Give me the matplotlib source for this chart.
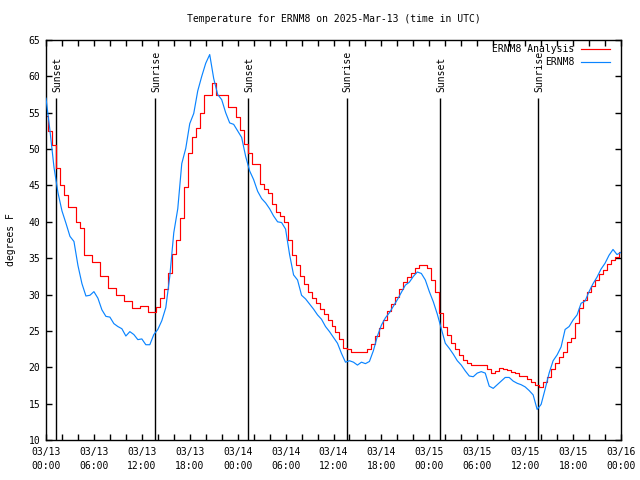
import matplotlib
matplotlib.use("Agg")
import matplotlib.pyplot as plt
import numpy as np

# ---- data ----
title = "Temperature for ERNM8 on 2025-Mar-13 (time in UTC)"
ylabel = "degrees F"
series_names = ["ERNM8 Analysis", "ERNM8"]

# hours since 03/13 00:00 UTC, half-hourly
analysis_hours = [i * 0.5 for i in range(145)]
analysis_temp = [54.5, 52.5, 50.6, 47.4, 45.0, 43.7, 42.1, 42.1, 40.0, 39.1,
                 35.4, 35.4, 34.5, 34.5, 32.5, 32.5, 30.9, 30.9, 30.0, 30.0,
                 29.1, 29.1, 28.2, 28.2, 28.4, 28.4, 27.6, 27.6, 28.3, 29.5,
                 30.8, 33.0, 35.6, 37.5, 40.5, 44.8, 49.4, 51.7, 52.9, 55.0,
                 57.4, 57.4, 59.1, 57.4, 57.4, 57.4, 55.8, 55.8, 54.4, 52.6,
                 50.7, 49.5, 47.9, 47.9, 45.2, 44.5, 43.9, 42.5, 41.4, 40.8,
                 40.0, 37.5, 35.4, 34.0, 32.6, 31.5, 30.3, 29.5, 28.8, 28.0,
                 27.3, 26.5, 25.7, 24.8, 23.9, 22.7, 22.5, 22.1, 22.1, 22.1,
                 22.1, 22.5, 23.2, 24.3, 25.4, 26.5, 27.7, 28.7, 29.7, 30.7,
                 31.7, 32.4, 33.0, 33.6, 34.1, 34.0, 33.6, 32.0, 30.4, 27.5,
                 25.5, 24.4, 23.3, 22.5, 21.7, 21.0, 20.6, 20.3, 20.3, 20.3,
                 20.3, 19.7, 19.2, 19.5, 19.9, 19.7, 19.6, 19.4, 19.2, 18.8,
                 18.8, 18.4, 18.0, 17.6, 17.3, 18.0, 18.7, 19.8, 20.6, 21.4,
                 22.1, 23.5, 24.0, 26.1, 28.2, 29.3, 30.4, 31.2, 32.0, 32.8,
                 33.4, 34.2, 34.7, 35.2, 35.8]

obs_hours = [i * 0.5 for i in range(145)]
obs_temp = [57.0, 52.5, 47.5, 44.0, 41.5, 39.8, 38.0, 37.3, 34.0, 31.5,
            29.8, 29.9, 30.4, 29.5, 27.9, 27.0, 26.9, 26.0, 25.6, 25.3,
            24.3, 24.9, 24.5, 23.8, 23.9, 23.1, 23.1, 24.5, 25.2, 26.4,
            28.2, 32.5, 38.5, 41.8, 48.0, 50.1, 53.5, 54.9, 58.0, 60.0,
            61.8, 63.0, 59.7, 57.5, 56.8, 55.0, 53.6, 53.4, 52.5, 51.6,
            49.0, 47.0, 45.8, 44.2, 43.2, 42.6, 41.8, 40.8, 40.0, 39.9,
            39.0, 35.5, 32.7, 32.0, 29.9, 29.4, 28.7, 28.0, 27.2, 26.6,
            25.6, 24.9, 24.1, 23.3, 21.9, 20.7, 20.9, 20.7, 20.3, 20.7,
            20.5, 20.8, 22.3, 24.3, 25.8, 26.8, 27.5, 28.4, 29.3, 30.3,
            31.3, 31.7, 32.5, 33.1, 32.9, 32.0, 30.4, 29.0, 27.3, 25.3,
            23.3, 22.6, 21.8, 20.9, 20.3, 19.5, 18.8, 18.7, 19.2, 19.4,
            19.2, 17.4, 17.1, 17.6, 18.1, 18.6, 18.6, 18.1, 17.8, 17.6,
            17.3, 16.8, 16.2, 14.2, 14.9, 17.0, 19.2, 20.9, 21.7, 22.8,
            25.2, 25.6, 26.5, 27.2, 28.8, 29.1, 30.4, 31.5, 32.4, 33.5,
            34.3, 35.4, 36.2, 35.5, 35.8]

sun_hours = [1.29, 13.68, 25.32, 37.66, 49.35, 61.63]
sun_labels = ["Sunset", "Sunrise", "Sunset", "Sunrise", "Sunset", "Sunrise"]

xtick_hours = list(range(0, 73, 6))
xtick_labels = ["03/13\n00:00", "03/13\n06:00", "03/13\n12:00", "03/13\n18:00",
                "03/14\n00:00", "03/14\n06:00", "03/14\n12:00", "03/14\n18:00",
                "03/15\n00:00", "03/15\n06:00", "03/15\n12:00", "03/15\n18:00",
                "03/16\n00:00"]
yticks = list(range(10, 66, 5))

# ---- style ----
plt.rcParams['font.family'] = ['DejaVu Sans Mono']
fs = 7
red = '#ff0000'
blue = '#0a84ff'
lw = 0.85

fig = plt.figure(figsize=(6.4, 4.8), dpi=100)
ax = fig.add_axes([46 / 640, 40 / 480, 575 / 640, 400 / 480])

ax.set_xlim(0, 72)
ax.set_ylim(10, 65)

for h, lab in zip(sun_hours, sun_labels):
    ax.vlines(h, 10, 57.0, colors='black', linewidth=1.0, zorder=1)
    ax.text(h + 0.1, 57.85, lab, rotation=90, ha='center', va='bottom',
            fontsize=fs, zorder=1)

ax.plot(analysis_hours, analysis_temp, color=red, linewidth=lw,
        drawstyle='steps-mid', label=series_names[0], zorder=2)
ax.plot(obs_hours, obs_temp, color=blue, linewidth=lw,
        label=series_names[1], zorder=3)

ax.set_xticks(xtick_hours)
ax.set_xticklabels(xtick_labels, fontsize=fs)
ax.set_xticks(list(range(0, 73, 2)), minor=True)
ax.set_yticks(yticks)
ax.set_yticklabels([str(v) for v in yticks], fontsize=fs)

ax.tick_params(axis='both', which='both', direction='in', top=True, right=True,
               width=1.0, color='black')
ax.tick_params(axis='both', which='major', length=4)
ax.tick_params(axis='both', which='minor', length=4)
ax.tick_params(axis='x', which='major', pad=5)
ax.tick_params(axis='y', which='major', pad=4)
for t in ax.get_xticklabels():
    t.set_linespacing(1.45)

for s in ax.spines.values():
    s.set_linewidth(1.0)

ax.set_ylabel(ylabel, fontsize=fs)
ax.yaxis.set_label_coords(-0.052, 0.5)

fig.text(333.5 / 640, 1 - 19 / 480, title, ha='center', va='center', fontsize=fs)

leg = ax.legend(loc='upper right', bbox_to_anchor=(0.981, 0.99), frameon=False,
                markerfirst=False, fontsize=fs, handlelength=3.0,
                handletextpad=0.7, labelspacing=0.3, borderpad=0,
                borderaxespad=0)

fig.savefig('out.png', dpi=100)
